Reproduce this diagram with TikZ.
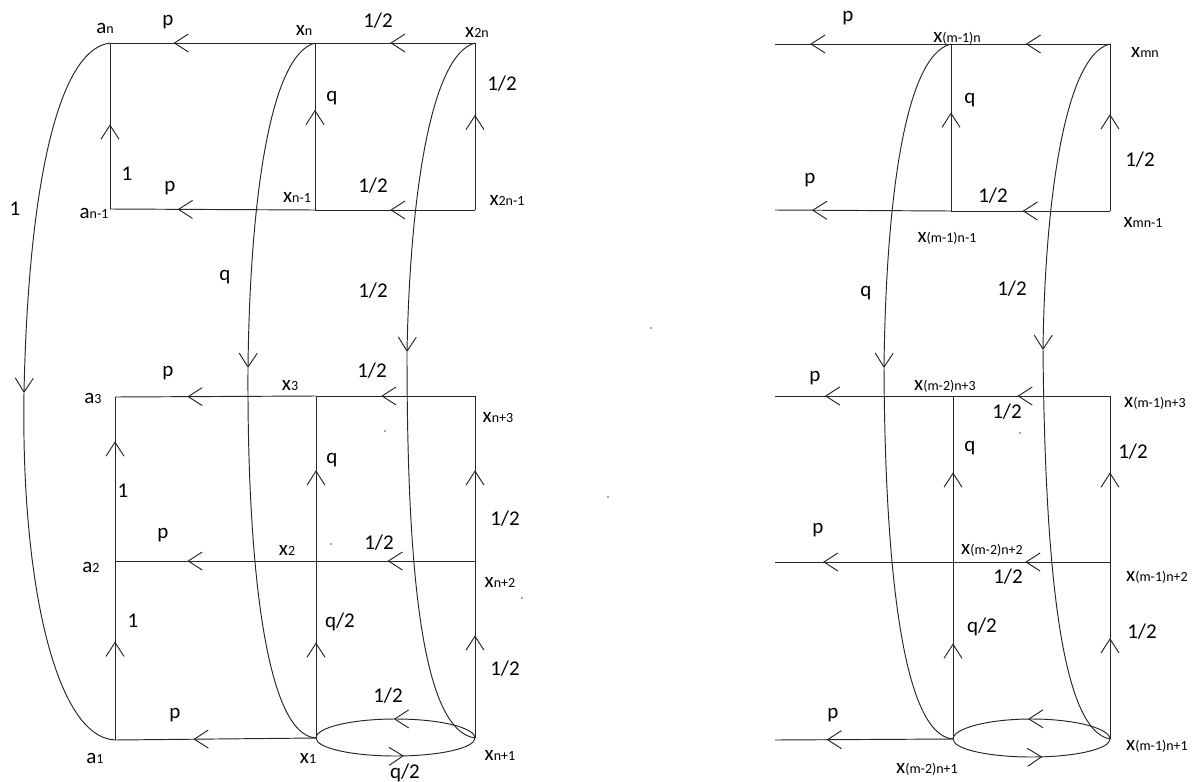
\documentclass[tikz,border=0pt]{standalone}
\usepackage{fontspec}
\setmainfont{Carlito}
\usetikzlibrary{arrows.meta,decorations.markings}
\newcommand\sbs[1]{{\fontsize{14}{15}\selectfont #1}}
\begin{document}
\begin{tikzpicture}[x=1pt,y=-1pt,
  ln/.style={draw=black!85, line width=0.95pt},
  >={Straight Barb[length=14pt,width=18pt]},
  am/.style={postaction={decorate},decoration={markings,mark=at position #1 with {\arrow{>}}}},
  lbl/.style={font=\fontsize{21}{22}\selectfont, inner sep=0pt, anchor=base, text=black},
  speck/.style={fill=black!70, circle, inner sep=0pt, minimum size=1.6pt}]
\useasboundingbox (0,0) rectangle (1192,782);
% ---------------- left panel: corners
\coordinate (an) at (110,43);
\coordinate (xn) at (315,43);
\coordinate (x2n) at (475,43);
\coordinate (an1) at (110,209);
\coordinate (xn1) at (315,210);
\coordinate (x2n1) at (475,210);
\coordinate (a3) at (115,397);
\coordinate (x3) at (316,396);
\coordinate (xn3) at (475,396);
\coordinate (a2) at (115,561);
\coordinate (x2) at (316,561);
\coordinate (xn2) at (475,561);
\coordinate (a1) at (115,740);
\coordinate (x1) at (316,738);
\coordinate (xnp1) at (475,738);
\coordinate (m1) at (24,393);
\coordinate (mq) at (248,368);
\coordinate (mh) at (407,352);
\coordinate (et) at (395.5,719);
\coordinate (eb) at (395.5,756);
% horizontal edges
\draw[ln,am=0.53] (x2n) -- (xn);
\draw[ln,am=0.69] (xn) -- (an);
\draw[ln,am=0.53] (x2n1) -- (xn1);
\draw[ln,am=0.67] (xn1) -- (an1);
\draw[ln,am=0.59] (xn3) -- (x3);
\draw[ln,am=0.64] (x3) -- (a3);
\draw[ln,am=0.55] (xn2) -- (x2);
\draw[ln,am=0.64] (x2) -- (a2);
\draw[ln,am=0.61] (x1) -- (a1);
% vertical edges
\draw[ln,am=0.51] (an1) -- (an);
\draw[ln,am=0.6] (xn1) -- (xn);
\draw[ln,am=0.57] (x2n1) -- (x2n);
\draw[ln,am=0.73] (a2) -- (a3);
\draw[ln,am=0.55] (a1) -- (a2);
\draw[ln,am=0.55] (x2) -- (x3);
\draw[ln,am=0.54] (x1) -- (x2);
\draw[ln,am=0.55] (xn2) -- (xn3);
\draw[ln,am=0.58] (xnp1) -- (xn2);
% arcs
\draw[ln,->] (an) .. controls (55,50) and (28,200) .. (m1);
\draw[ln] (m1) .. controls (21,580) and (55,737) .. (a1);
\draw[ln,->] (xn) .. controls (270,55) and (250,200) .. (mq);
\draw[ln] (mq) .. controls (247,560) and (265,735) .. (x1);
\draw[ln,->] (x2n) .. controls (430,55) and (410,200) .. (mh);
\draw[ln] (mh) .. controls (407,560) and (420,730) .. (xnp1);
% ellipse
\draw[ln,am=0.51] (xnp1) .. controls (475,727.5) and (439.5,719) .. (et) .. controls (351.5,719) and (316,727.5) .. (x1);
\draw[ln,am=0.55] (x1) .. controls (316,748) and (351.5,756) .. (eb) .. controls (439.5,756) and (475,748) .. (xnp1);
% labels left
\node[lbl] (l1) at (105,33) {a\sbs{n}};
\node[lbl] (l2) at (168,25) {p};
\node[lbl] (l3) at (304,35) {x\sbs{n}};
\node[lbl] (l4) at (378,27) {1/2};
\node[lbl] (l5) at (477,37) {x\sbs{2n}};
\node[lbl] (l6) at (502,90) {1/2};
\node[lbl] (l7) at (332,101) {q};
\node[lbl] (l8) at (127,180) {1};
\node[lbl] (l9) at (170,191) {p};
\node[lbl] (l10) at (373,192) {1/2};
\node[lbl] (l11) at (297,202) {x\sbs{n-1}};
\node[lbl] (l12) at (507,205) {x\sbs{2n-1}};
\node[lbl] (l13) at (94,218) {a\sbs{n-1}};
\node[lbl] (l14) at (15,215) {1};
\node[lbl] (l15) at (225,280) {q};
\node[lbl] (l16) at (373,297) {1/2};
\node[lbl] (l17) at (168,376) {p};
\node[lbl] (l18) at (372,377) {1/2};
\node[lbl] (l19) at (290,390) {x\sbs{3}};
\node[lbl] (l20) at (93,403) {a\sbs{3}};
\node[lbl] (l21) at (498,422) {x\sbs{n+3}};
\node[lbl] (l22) at (332,463) {q};
\node[lbl] (l23) at (123,497) {1};
\node[lbl] (l24) at (505,525) {1/2};
\node[lbl] (l25) at (163,538) {p};
\node[lbl] (l26) at (287,555) {x\sbs{2}};
\node[lbl] (l27) at (379,549) {1/2};
\node[lbl] (l28) at (91,572) {a\sbs{2}};
\node[lbl] (l29) at (500,587) {x\sbs{n+2}};
\node[lbl] (l30) at (133,627) {1};
\node[lbl] (l31) at (340,627) {q/2};
\node[lbl] (l32) at (505,675) {1/2};
\node[lbl] (l33) at (388,702) {1/2};
\node[lbl] (l34) at (175,718) {p};
\node[lbl] (l35) at (95,763) {a\sbs{1}};
\node[lbl] (l36) at (308,763) {x\sbs{1}};
\node[lbl] (l37) at (500,760) {x\sbs{n+1}};
\node[lbl] (l38) at (405,778) {q/2};
% specks
\node[speck] (s1) at (385,431) {};
\node[speck] (s2) at (331,544) {};
\node[speck] (s3) at (522,598) {};
\node[speck] (s4) at (608,497) {};
\node[speck] (s5) at (651,328) {};
\node[speck] (s6) at (1020,433) {};
% ---------------- right panel: corners
\coordinate (r1) at (775,44);
\coordinate (ya) at (951,44);
\coordinate (ymn) at (1110,44);
\coordinate (r2) at (775,210);
\coordinate (yb) at (951,211);
\coordinate (ymn1) at (1110,211);
\coordinate (r3) at (775,396);
\coordinate (yc) at (953,396);
\coordinate (yd) at (1110,396);
\coordinate (r4) at (775,562);
\coordinate (ye) at (953,562);
\coordinate (yf) at (1110,562);
\coordinate (r5) at (775,740);
\coordinate (yg) at (953,739);
\coordinate (yh) at (1110,739);
\coordinate (rmq) at (884,368);
\coordinate (rmh) at (1043,350);
\coordinate (rt) at (1031.5,719);
\coordinate (rb) at (1031.5,757);
% horizontal
\draw[ln,am=0.53] (ymn) -- (ya);
\draw[ln,am=0.80] (ya) -- (r1);
\draw[ln,am=0.55] (ymn1) -- (yb);
\draw[ln,am=0.79] (yb) -- (r2);
\draw[ln,am=0.59] (yd) -- (yc);
\draw[ln,am=0.72] (yc) -- (r3);
\draw[ln,am=0.54] (yf) -- (ye);
\draw[ln,am=0.73] (ye) -- (r4);
\draw[ln,am=0.71] (yg) -- (r5);
% vertical
\draw[ln,am=0.59] (yb) -- (ya);
\draw[ln,am=0.58] (ymn1) -- (ymn);
\draw[ln,am=0.54] (ye) -- (yc);
\draw[ln,am=0.54] (yg) -- (ye);
\draw[ln,am=0.54] (yf) -- (yd);
\draw[ln,am=0.57] (yh) -- (yf);
% arcs
\draw[ln,->] (ya) .. controls (905,55) and (886,200) .. (rmq);
\draw[ln] (rmq) .. controls (885,570) and (903,735) .. (yg);
\draw[ln,->] (ymn) .. controls (1065,55) and (1045,200) .. (rmh);
\draw[ln] (rmh) .. controls (1045,560) and (1060,730) .. (yh);
% ellipse
\draw[ln,am=0.52] (yh) .. controls (1110,728.5) and (1075,719) .. (rt) .. controls (988,719) and (953,728.5) .. (yg);
\draw[ln,am=0.565] (yg) .. controls (953,749) and (988,757) .. (rb) .. controls (1075,757) and (1110,749) .. (yh);
% labels right
\node[lbl] (k1) at (848,21) {p};
\node[lbl] (k2) at (957,42) {x\sbs{(m-1)n}};
\node[lbl] (k3) at (1145,57) {x\sbs{mn}};
\node[lbl] (k4) at (970,103) {q};
\node[lbl] (k5) at (1140,166) {1/2};
\node[lbl] (k6) at (810,183) {p};
\node[lbl] (k7) at (993,202) {1/2};
\node[lbl] (k8) at (1143,227) {x\sbs{mn-1}};
\node[lbl] (k9) at (947,242) {x\sbs{(m-1)n-1}};
\node[lbl] (k10) at (866,296) {q};
\node[lbl] (k11) at (1012,295) {1/2};
\node[lbl] (k12) at (815,381) {p};
\node[lbl] (k13) at (945,390) {x\sbs{(m-2)n+3}};
\node[lbl] (k14) at (1155,407) {x\sbs{(m-1)n+3}};
\node[lbl] (k15) at (1007,418) {1/2};
\node[lbl] (k16) at (970,451) {q};
\node[lbl] (k17) at (1133,458) {1/2};
\node[lbl] (k18) at (818,533) {p};
\node[lbl] (k19) at (992,554) {x\sbs{(m-2)n+2}};
\node[lbl] (k20) at (1008,583) {1/2};
\node[lbl] (k21) at (1157,581) {x\sbs{(m-1)n+2}};
\node[lbl] (k22) at (982,632) {q/2};
\node[lbl] (k23) at (1142,638) {1/2};
\node[lbl] (k24) at (833,718) {p};
\node[lbl] (k25) at (1157,750) {x\sbs{(m-1)n+1}};
\node[lbl] (k26) at (927,773) {x\sbs{(m-2)n+1}};
\end{tikzpicture}
\end{document}
